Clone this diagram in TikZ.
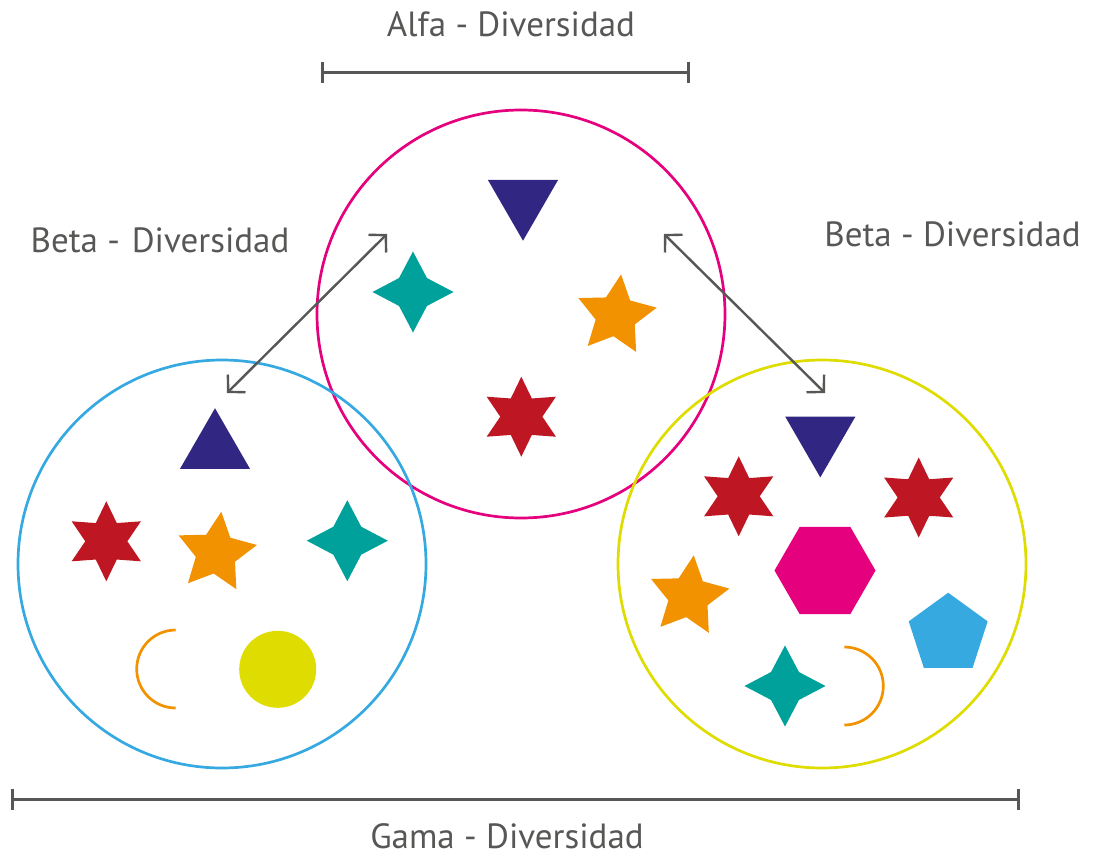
\documentclass[tikz,border=0pt]{standalone}
\usepackage{fontspec}
\setmainfont{PT Sans}
\usepackage{tikz}
\usetikzlibrary{shapes.geometric, arrows.meta}
\definecolor{textGray}{RGB}{87,87,86}
\definecolor{navyColor}{RGB}{49,39,131}
\definecolor{tealColor}{RGB}{0,161,154}
\definecolor{orangeColor}{RGB}{243,146,0}
\definecolor{redColor}{RGB}{190,22,34}
\definecolor{magentaColor}{RGB}{229,0,126}
\definecolor{blueColor}{RGB}{54,169,225}
\definecolor{yellowColor}{RGB}{222,220,0}

\begin{document}
\begin{tikzpicture}[
    x=1pt, y=-1pt,
    community/.style={circle, draw, line width=2.7pt, minimum size=408pt, inner sep=0pt},
    label/.style={text=textGray, font=\fontsize{35}{40}\selectfont, anchor=base, inner sep=0pt},
    scalebar/.style={draw=textGray, line width=3pt, {Bar[width=21pt]}-{Bar[width=21pt]}},
    beta/.style={draw=textGray, line width=2.4pt, {Straight Barb[length=12pt,width=25pt]}-{Straight Barb[length=12pt,width=25pt]}},
    hexstar/.style={star, star points=6, star point ratio=1.9, minimum size=80pt, inner sep=0pt, fill=redColor},
    fivestar/.style={star, star points=5, star point ratio=2, minimum size=83pt, inner sep=0pt, rotate=-7, fill=orangeColor},
    fourstar/.style={star, star points=4, star point ratio=2.05, minimum size=81pt, inner sep=0pt, fill=tealColor},
    triup/.style={regular polygon, regular polygon sides=3, minimum size=81pt, inner sep=0pt, fill=navyColor},
    tridown/.style={triup, rotate=180},
    halfring/.style={draw=orangeColor, line width=2.7pt}
]
    \useasboundingbox (0,0) rectangle (1093,857);

    % Communities
    \node[community, draw=magentaColor] (alfa) at (521,314) {};
    \node[community, draw=blueColor] (left) at (222,564) {};
    \node[community, draw=yellowColor] (right) at (822,564) {};

    % Scale bars and labels
    \coordinate (alfaL) at (321,72);
    \coordinate (alfaR) at (690,72);
    \draw[scalebar] (alfaL) -- (alfaR);
    \node[label] (alfatxt) at (511,36.7) {Alfa - Diversidad};

    \coordinate (gamaL) at (11,799);
    \coordinate (gamaR) at (1020,799);
    \draw[scalebar] (gamaL) -- (gamaR);
    \node[label] (gamatxt) at (507,848) {Gama - Diversidad};

    \node[label] (betaleft) at (160,252.3) {Beta -\hspace{2.5pt} Diversidad};
    \node[label] (betaright) at (952.5,246) {Beta - Diversidad};

    % Beta arrows
    \coordinate (aL) at (387,234);
    \coordinate (bL) at (227,393);
    \coordinate (aR) at (664,234);
    \coordinate (bR) at (825,393);
    \draw[beta] (aL) -- (bL);
    \draw[beta] (aR) -- (bR);

    % Species in the top community
    \node[tridown] (t1) at (523,200.2) {};
    \node[fourstar] (t2) at (413,292) {};
    \node[fivestar] (t3) at (616,315.6) {};
    \node[hexstar] (t4) at (521.3,416.7) {};

    % Species in the left community
    \node[triup] (l1) at (215,448.7) {};
    \node[hexstar] (l2) at (106.3,541.3) {};
    \node[fivestar] (l3) at (216.2,552.9) {};
    \node[fourstar] (l4) at (347.3,540.7) {};
    \node[circle, fill=yellowColor, minimum size=77pt, inner sep=0pt] (l5) at (277.7,669.3) {};
    \coordinate (l6) at (175.7,630);
    \draw[halfring] (l6) arc[start angle=90, end angle=270, radius=39pt];

    % Species in the right community
    \node[tridown] (r1) at (820.3,436.9) {};
    \node[hexstar] (r2) at (738.7,496.3) {};
    \node[hexstar] (r3) at (918.7,497.5) {};
    \node[regular polygon, regular polygon sides=6, minimum size=101pt, inner sep=0pt, fill=magentaColor] (r4) at (825,570.5) {};
    \node[fivestar] (r5) at (688.7,596.5) {};
    \node[regular polygon, regular polygon sides=5, minimum size=83pt, inner sep=0pt, fill=blueColor] (r6) at (948.2,634.2) {};
    \node[fourstar] (r7) at (785,686) {};
    \coordinate (r8) at (844.3,647);
    \draw[halfring] (r8) arc[start angle=90, end angle=-90, radius=39pt];
\end{tikzpicture}
\end{document}
